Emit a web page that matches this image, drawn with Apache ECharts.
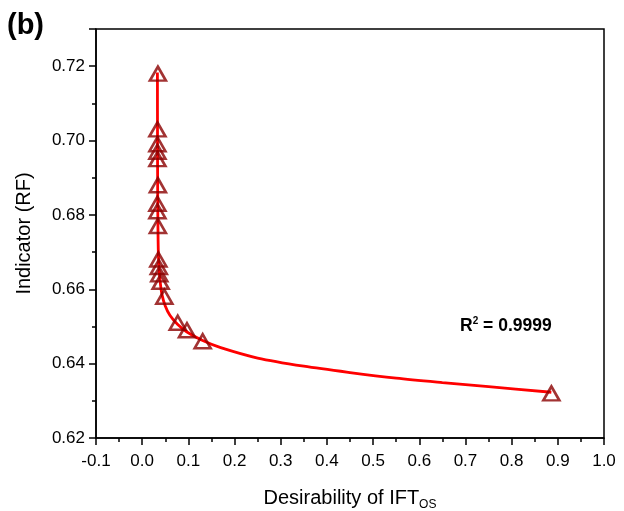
<!DOCTYPE html>
<html>
<head>
<meta charset="utf-8">
<script src="https://cdn.jsdelivr.net/npm/echarts@6/dist/echarts.min.js"></script>
<style>
html,body{margin:0;padding:0;background:#fff;}
#c{width:624px;height:511px;}
</style>
</head>
<body>
<div id="c"></div>
<script>
// Measured points (triangles)
const pointX = [0.034, 0.033, 0.033, 0.033, 0.033, 0.034, 0.033, 0.033, 0.034, 0.035, 0.036, 0.037, 0.040, 0.048, 0.077, 0.097, 0.131, 0.886];
const pointY = [0.718, 0.703, 0.699, 0.697, 0.695, 0.688, 0.683, 0.681, 0.677, 0.668, 0.666, 0.664, 0.662, 0.658, 0.651, 0.649, 0.646, 0.632];
// Fitted curve
const curveX = [0.0330, 0.0332, 0.0336, 0.0345, 0.036, 0.039, 0.043, 0.050, 0.060, 0.077, 0.097, 0.131, 0.17, 0.25, 0.35, 0.45, 0.55, 0.65, 0.75, 0.886];
const curveY = [0.7183, 0.700, 0.685, 0.673, 0.6665, 0.662, 0.6585, 0.6555, 0.653, 0.6505, 0.6485, 0.6462, 0.6443, 0.6415, 0.6393, 0.6376, 0.6361, 0.6349, 0.6338, 0.6323];
const xTicks = {min: -0.1, max: 1.0, interval: 0.1};
const yTicks = {min: 0.62, max: 0.73, interval: 0.02};

const chart = echarts.init(document.getElementById('c'), null, {renderer: 'canvas'});
const font = 'Liberation Sans, Arial, sans-serif';
const axisCommon = {
  axisLine: {show: true, onZero: false, lineStyle: {color: '#000', width: 1.5}},
  axisTick: {show: true, inside: false, length: 7, lineStyle: {color: '#000', width: 1.5}},
  minorTick: {show: true, splitNumber: 2, length: 4, lineStyle: {color: '#000', width: 1.5}},
  splitLine: {show: false},
};
chart.setOption({
  animation: false,
  backgroundColor: '#fff',
  grid: {left: 96, right: 20, top: 29, bottom: 73, containLabel: false, outerBoundsMode: 'none',
    show: true, borderColor: '#000', borderWidth: 1.5},
  xAxis: Object.assign({
    type: 'value', min: xTicks.min, max: xTicks.max, interval: xTicks.interval,
    name: '{a|Desirability of IFT}{s|OS}', nameLocation: 'middle', nameGap: 48,
    nameTextStyle: {rich: {
      a: {fontFamily: font, fontSize: 20, color: '#000'},
      s: {fontFamily: font, fontSize: 12, color: '#000', padding: [13, 0, 0, 0]}
    }},
    axisLabel: {fontFamily: font, fontSize: 17, color: '#000', margin: 15,
      formatter: v => (Math.round(v * 10) / 10).toFixed(1)}
  }, axisCommon),
  yAxis: Object.assign({
    type: 'value', min: yTicks.min, max: yTicks.max, interval: yTicks.interval,
    name: 'Indicator (RF)', nameLocation: 'middle', nameGap: 62,
    nameTextStyle: {fontFamily: font, fontSize: 20, color: '#000'},
    axisLabel: {fontFamily: font, fontSize: 17, color: '#000', margin: 11, showMaxLabel: false,
      formatter: v => (Math.abs(Math.round(v * 100) - v * 100) < 1e-6 && Math.round(v*100) % 2 === 0) ? v.toFixed(2) : ''}
  }, axisCommon),
  series: [
    {
      type: 'line', data: curveX.map((x, i) => [x, curveY[i]]), smooth: 0.3,
      showSymbol: false, lineStyle: {color: '#ff0000', width: 2.8}, z: 2
    },
    {
      type: 'scatter', data: pointX.map((x, i) => [x, pointY[i]]),
      symbol: 'triangle', symbolSize: [16, 14],
      itemStyle: {color: 'rgba(255,255,255,0)', borderColor: '#8b0000', borderWidth: 2.6}, z: 3
    }
  ],
  graphic: [
    {type: 'text', left: 7, top: 11, style: {text: '(b)', font: 'bold 29px ' + font, fill: '#000'}},
    {type: 'text', left: 460, top: 316, style: {
      text: '{b|R}{p|2}{b| = 0.9999}',
      rich: {
        b: {fontFamily: font, fontSize: 17.5, fontWeight: 'bold', color: '#000'},
        p: {fontFamily: font, fontSize: 10, fontWeight: 'bold', color: '#000', padding: [0, 0, 11, 0]}
      }
    }}
  ]
});
</script>
</body>
</html>
